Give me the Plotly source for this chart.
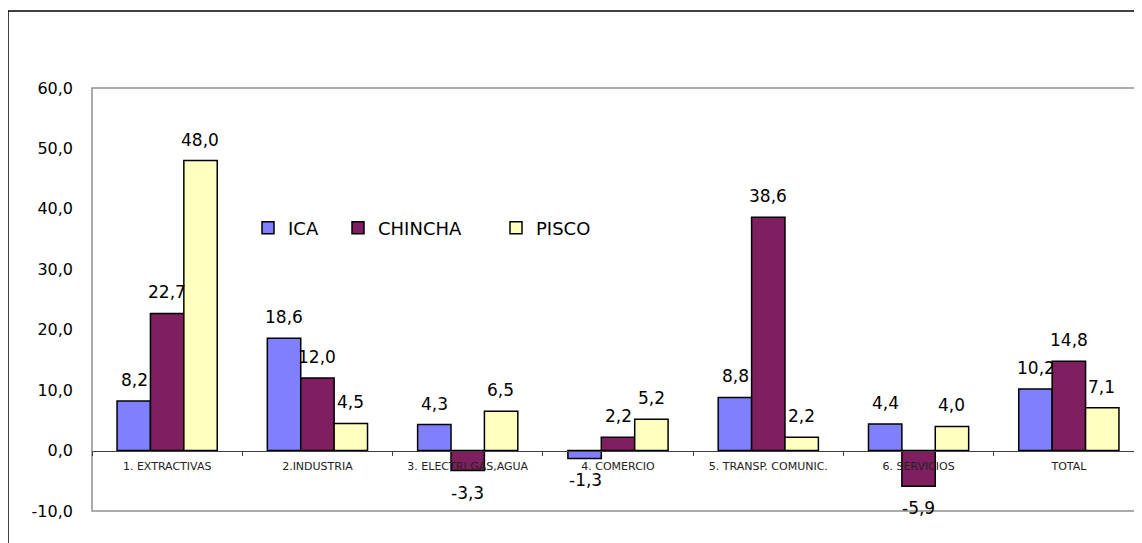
import plotly.graph_objects as go

categories = ["1. EXTRACTIVAS", "2.INDUSTRIA", "3. ELECTRI.GAS,AGUA", "4. COMERCIO",
              "5. TRANSP. COMUNIC.", "6. SERVICIOS", "TOTAL"]
ica = [8.2, 18.6, 4.3, -1.3, 8.8, 4.4, 10.2]
chincha = [22.7, 12.0, -3.3, 2.2, 38.6, -5.9, 14.8]
pisco = [48.0, 4.5, 6.5, 5.2, 2.2, 4.0, 7.1]
y_ticks = [-10, 0, 10, 20, 30, 40, 50, 60]
y_tick_labels = ["-10,0", "0,0", "10,0", "20,0", "30,0", "40,0", "50,0", "60,0"]

series = [("ICA", ica, "#8080FF", "legend"),
          ("CHINCHA", chincha, "#7F1F5F", "legend2"),
          ("PISCO", pisco, "#FFFFC0", "legend3")]

FONT = "DejaVu Sans"
OFF = 8  # page body margin
W, H = 1142, 543
L, T, B, R = 84, 80, 40, 6
pw = W - L - R
ph = H - T - B

def px_x(x):  # screen x -> paper
    return (x - OFF - L) / pw

def px_y(y):  # screen y -> paper
    return (H - B - (y - OFF)) / ph

fig = go.Figure()
shifts = [-33, 0, 33]
annotations = []
for (name, vals, col, lg), xs in zip(series, shifts):
    fig.add_trace(go.Bar(
        x=categories, y=vals, name=name, legend=lg, showlegend=True,
        marker=dict(color=col, line=dict(color="black", width=1.5)),
    ))
    for c, v in zip(categories, vals):
        annotations.append(dict(
            x=c, y=v, xref="x", yref="y", xshift=xs,
            yshift=9 if v >= 0 else -10,
            yanchor="bottom" if v >= 0 else "top",
            text=f"{v:.1f}".replace(".", ","), showarrow=False,
            font=dict(family=FONT, size=17, color="black"),
        ))

legend_common = dict(orientation="h", yanchor="middle", y=px_y(228), xanchor="left",
                     bgcolor="rgba(0,0,0,0)",
                     font=dict(family=FONT, size=18, color="black"))

fig.update_layout(
    width=W, height=H,
    margin=dict(l=L, r=R, t=T, b=B, autoexpand=False),
    paper_bgcolor="white", plot_bgcolor="white",
    barmode="group", bargap=1/3, bargroupgap=0,
    separators=",.",
    showlegend=True,
    font=dict(family=FONT, color="black"),
    legend=dict(x=px_x(248), **legend_common),
    legend2=dict(x=px_x(338), **legend_common),
    legend3=dict(x=px_x(496), **legend_common),
    xaxis=dict(anchor="free", position=10/70, showline=True, linecolor="#404040",
               linewidth=1, ticks="outside", tickson="boundaries", ticklen=4,
               tickcolor="#404040", showgrid=False, ticklabelstandoff=5,
               tickfont=dict(family=FONT, size=11, color="#222")),
    yaxis=dict(range=[-10, 60], tickvals=y_ticks, ticktext=y_tick_labels,
               showgrid=False, zeroline=False, showline=False, ticks="",
               ticklabelstandoff=18,
               tickfont=dict(family=FONT, size=16, color="black")),
    annotations=annotations,
    shapes=[
        dict(type="rect", xref="paper", yref="paper", x0=0, y0=0, x1=1, y1=1,
             line=dict(color="#909090", width=1.5), layer="below"),
        dict(type="line", xref="paper", yref="paper", x0=px_x(8), x1=px_x(8),
             y0=px_y(11), y1=px_y(570), line=dict(color="black", width=1.5)),
        dict(type="line", xref="paper", yref="paper", x0=px_x(8), x1=px_x(1170),
             y0=px_y(11), y1=px_y(11), line=dict(color="black", width=1.5)),
    ],
)

fig.write_html("out.html")
